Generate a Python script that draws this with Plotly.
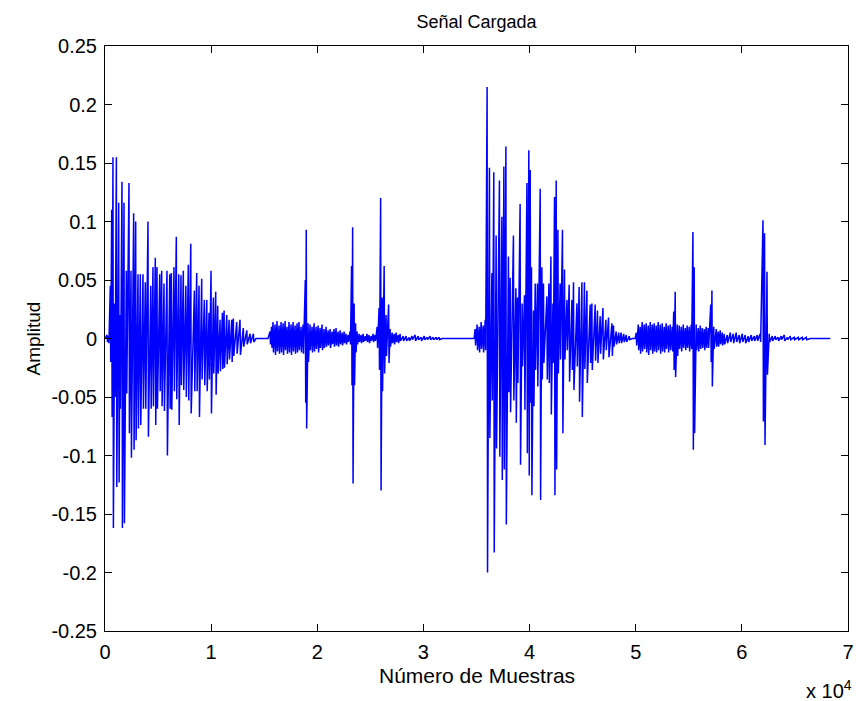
import plotly.graph_objects as go

# ---- Señal de audio: crestas y valles por tramo (índice de muestra, amplitud) ----
# Tramo 1
t1_muestras = [0, 190, 330, 500, 630, 750, 910, 1070, 1290, 1410, 1600, 1790, 2010, 2260, 2450,
               2700, 2890, 3110, 3330, 3580, 3800, 4050, 4310, 4520, 4740, 4900, 5160, 5340, 5560,
               5840, 6100, 6250, 6500, 6720, 6950, 7160, 7380, 7620, 7850, 8080, 8420, 8640, 8860,
               9110, 9360, 9590, 9800, 9990, 10210, 10430, 10620, 10840, 11060, 11220, 11470, 11690,
               11940, 12090, 12410, 12720, 13030, 13360, 13670, 13980, 14230]
t1_crestas = [0, 0.003, 0.002, 0.045, 0.11, 0.155, 0.03, 0.155, 0.116, 0.02, 0.134, 0.116, 0.058,
              0.133, 0.058, 0.107, 0.1, 0.055, 0.055, 0.055, 0.048, 0.1, 0.045, 0.061, 0.069, 0.061,
              0.055, 0.058, 0.047, 0.058, 0.055, 0.056, 0.061, 0.087, 0.055, 0.054, 0.058, 0.045,
              0.063, 0.081, 0.041, 0.056, 0.045, 0.051, 0.033, 0.033, 0.022, 0.058, 0.035, 0.04,
              0.028, 0.016, 0.022, 0.024, 0.02, 0.016, 0.016, 0.017, 0.014, 0.016, 0.009, 0.007,
              0.004, 0.004, 0]
t1_valles = [0, -0.003, -0.004, -0.02, -0.067, -0.162, -0.05, -0.127, -0.123, -0.06, -0.162, -0.158,
             -0.047, -0.081, -0.102, -0.095, -0.087, -0.077, -0.074, -0.06, -0.06, -0.084, -0.06,
             -0.058, -0.074, -0.06, -0.045, -0.058, -0.062, -0.1, -0.06, -0.061, -0.045, -0.052,
             -0.074, -0.04, -0.044, -0.05, -0.053, -0.064, -0.045, -0.045, -0.067, -0.035, -0.04,
             -0.045, -0.035, -0.064, -0.03, -0.048, -0.03, -0.028, -0.026, -0.025, -0.022, -0.018,
             -0.02, -0.015, -0.013, -0.014, -0.007, -0.005, -0.004, -0.003, 0]

# Tramo 2
t2_muestras = [15360, 15550, 15690, 15830, 16020, 16210, 16400, 16590, 16780, 16970, 17150, 17340,
               17530, 17720, 17910, 18100, 18280, 18470, 18660, 18870, 18960, 19130, 19320, 19510,
               19700, 19890, 20080, 20260, 20450, 20640, 20830, 21020, 21210, 21400, 21580, 21770,
               21960, 22150, 22340, 22530, 22710, 22900, 23090, 23230, 23330, 23470, 23610, 23750,
               23940, 24130, 24320, 24510, 24690, 24880, 25070, 25260, 25450, 25640, 25820, 25970,
               26110, 26300, 26480, 26720, 26860, 27050, 27240, 27430, 27620, 27800, 28090, 28370,
               28650, 28930, 29220, 29500, 29780, 30070, 30350, 30630, 30910, 31200, 31480, 31760]
t2_crestas = [0, 0.006, 0.01, 0.014, 0.012, 0.015, 0.011, 0.014, 0.013, 0.015, 0.01, 0.014, 0.012,
              0.014, 0.011, 0.013, 0.014, 0.01, 0.012, 0.05, 0.093, 0.013, 0.012, 0.01, 0.013, 0.01,
              0.011, 0.009, 0.012, 0.008, 0.01, 0.007, 0.008, 0.006, 0.008, 0.009, 0.006, 0.007,
              0.005, 0.006, 0.004, 0.003, 0.006, 0.062, 0.095, 0.03, 0.013, 0.006, 0.004, 0.003,
              0.004, 0.002, 0.004, 0.003, 0.002, 0.004, 0.003, 0.01, 0.026, 0.12, 0.035, 0.062, 0.02,
              0.029, 0.008, 0.005, 0.004, 0.005, 0.003, 0.004, 0.002, 0.002, 0.001, 0.002, 0.003,
              0.002, 0.001, 0.002, 0.001, 0.002, 0.001, 0.001, 0.001, 0]
t2_valles = [0, -0.005, -0.008, -0.012, -0.014, -0.011, -0.013, -0.012, -0.014, -0.01, -0.013,
             -0.012, -0.014, -0.011, -0.013, -0.012, -0.01, -0.012, -0.013, -0.055, -0.077, -0.02,
             -0.01, -0.012, -0.011, -0.009, -0.012, -0.008, -0.01, -0.008, -0.007, -0.006, -0.008,
             -0.005, -0.007, -0.006, -0.007, -0.005, -0.006, -0.004, -0.005, -0.003, -0.005, -0.04,
             -0.124, -0.04, -0.012, -0.005, -0.003, -0.004, -0.003, -0.002, -0.003, -0.004, -0.002,
             -0.003, -0.002, -0.008, -0.027, -0.13, -0.045, -0.03, -0.015, -0.021, -0.007, -0.004,
             -0.005, -0.003, -0.004, -0.002, -0.002, -0.002, -0.002, -0.001, -0.002, -0.001, -0.002,
             -0.001, -0.001, -0.001, -0.001, -0.001, -0.001, 0]

# Tramo 3
t3_muestras = [34780, 34870, 35060, 35250, 35440, 35630, 35820, 36000, 36220, 36450, 36630, 36850,
               37160, 37390, 37580, 37770, 38010, 38170, 38480, 38710, 38860, 39110, 39300, 39520,
               39750, 39930, 40060, 40180, 40370, 40530, 40740, 41000, 41160, 41310, 41630, 41820,
               42010, 42200, 42350, 42510, 42670, 42880, 43100, 43290, 43520, 43730, 43990, 44140,
               44460, 44670, 44930, 45170, 45400, 45710, 45870, 46180, 46400, 46650, 46910, 47190,
               47440, 47760, 47910, 48160, 48400, 48630, 48870, 49100, 49390, 49670]
t3_crestas = [0, 0.008, 0.012, 0.01, 0.014, 0.011, 0.016, 0.215, 0.146, 0.056, 0.142, 0.088, 0.135,
              0.104, 0.147, 0.164, 0.07, 0.052, 0.088, 0.043, 0.035, 0.115, 0.03, 0.037, 0.133,
              0.161, 0.144, 0.061, 0.024, 0.047, 0.047, 0.128, 0.061, 0.047, 0.036, 0.047, 0.07,
              0.03, 0.121, 0.135, 0.093, 0.047, 0.093, 0.059, 0.033, 0.046, 0.033, 0.048, 0.03,
              0.044, 0.048, 0.048, 0.041, 0.029, 0.03, 0.029, 0.024, 0.019, 0.026, 0.016, 0.018,
              0.013, 0.011, 0.006, 0.005, 0.005, 0.004, 0.003, 0.002, 0]
t3_valles = [0, -0.006, -0.01, -0.012, -0.009, -0.012, -0.01, -0.2, -0.085, -0.053, -0.183, -0.094,
             -0.101, -0.121, -0.112, -0.159, -0.046, -0.063, -0.053, -0.072, -0.038, -0.108, -0.024,
             -0.061, -0.098, -0.117, -0.055, -0.134, -0.058, -0.027, -0.041, -0.138, -0.035, -0.021,
             -0.035, -0.038, -0.065, -0.021, -0.134, -0.112, -0.03, -0.018, -0.081, -0.018, -0.01,
             -0.037, -0.027, -0.044, -0.024, -0.054, -0.067, -0.026, -0.038, -0.021, -0.027, -0.019,
             -0.021, -0.013, -0.018, -0.01, -0.016, -0.015, -0.007, -0.005, -0.004, -0.004, -0.003,
             -0.003, -0.001, 0]

# Tramo 4
t4_muestras = [49950, 50050, 50240, 50420, 50610, 50800, 50990, 51180, 51370, 51560, 51740, 51930,
               52120, 52310, 52500, 52690, 52870, 53060, 53250, 53440, 53580, 53720, 53910, 54100,
               54290, 54480, 54670, 54850, 55040, 55230, 55390, 55510, 55700, 55890, 56080, 56270,
               56460, 56640, 56830, 57070, 57180, 57350, 57590, 57770, 57960, 58150, 58340, 58620,
               58910, 59190, 59470, 59750, 60040, 60320, 60600, 60890, 61170, 61450, 61730, 61990,
               62140, 62370, 62580, 62860, 63150, 63430, 63710, 64000, 64280, 64560, 64940, 65320,
               65690, 66070, 66450, 68330]
t4_crestas = [0, 0.005, 0.012, 0.01, 0.014, 0.012, 0.013, 0.011, 0.014, 0.012, 0.013, 0.011, 0.014,
              0.012, 0.013, 0.01, 0.013, 0.011, 0.012, 0.01, 0.023, 0.04, 0.012, 0.011, 0.01, 0.012,
              0.009, 0.011, 0.01, 0.012, 0.091, 0.061, 0.012, 0.009, 0.011, 0.009, 0.008, 0.01,
              0.009, 0.029, 0.041, 0.01, 0.008, 0.006, 0.007, 0.005, 0.004, 0.003, 0.005, 0.004,
              0.005, 0.003, 0.004, 0.003, 0.002, 0.003, 0.002, 0.003, 0.004, 0.101, 0.09, 0.057,
              0.004, 0.002, 0.002, 0.001, 0.002, 0.003, 0.001, 0.002, 0.001, 0.001, 0.001, 0.001,
              0, 0]
t4_valles = [0, -0.006, -0.01, -0.013, -0.011, -0.009, -0.012, -0.014, -0.01, -0.013, -0.011,
             -0.012, -0.01, -0.013, -0.011, -0.012, -0.009, -0.012, -0.01, -0.011, -0.027, -0.033,
             -0.015, -0.009, -0.011, -0.008, -0.01, -0.008, -0.011, -0.009, -0.095, -0.081, -0.01,
             -0.011, -0.009, -0.008, -0.01, -0.008, -0.008, -0.02, -0.041, -0.009, -0.007, -0.007,
             -0.005, -0.006, -0.005, -0.004, -0.003, -0.004, -0.003, -0.004, -0.003, -0.004, -0.003,
             -0.002, -0.002, -0.002, -0.003, -0.071, -0.091, -0.031, -0.003, -0.002, -0.001, -0.002,
             -0.001, -0.002, -0.001, -0.001, -0.001, -0.001, -0.001, -0.001, 0, 0]

# Etiquetas de los ejes
x_ticks = [0, 10000, 20000, 30000, 40000, 50000, 60000, 70000]
x_tick_text = ["0", "1", "2", "3", "4", "5", "6", "7"]
y_ticks = [0.25, 0.2, 0.15, 0.1, 0.05, 0, -0.05, -0.1, -0.15, -0.2, -0.25]
y_tick_text = ["0.25", "0.2", "0.15", "0.1", "0.05", "0", "-0.05", "-0.1", "-0.15", "-0.2", "-0.25"]

tramos = [
    (t1_muestras, t1_crestas, t1_valles),
    (t2_muestras, t2_crestas, t2_valles),
    (t3_muestras, t3_crestas, t3_valles),
    (t4_muestras, t4_crestas, t4_valles),
]

# Cada muestra aporta una cresta y, medio periodo después, su valle.
MEDIO_PERIODO = 40
xs, ys = [], []
for muestras, crestas, valles in tramos:
    for m, c, v in zip(muestras, crestas, valles):
        if c == 0 and v == 0:
            xs.append(m)
            ys.append(0.0)
        else:
            xs.extend([m, m + MEDIO_PERIODO])
            ys.extend([c, v])

FUENTE = "Liberation Sans, Arial, Helvetica, sans-serif"

fig = go.Figure(
    go.Scatter(x=xs, y=ys, mode="lines", line=dict(color="#0000ff", width=1.5),
               hoverinfo="skip", showlegend=False)
)

eje = dict(
    showgrid=False, zeroline=False, showline=True, linecolor="black", linewidth=1,
    mirror="ticks", ticks="inside", ticklen=7, tickcolor="black", tickwidth=1,
    tickfont=dict(family=FUENTE, size=20, color="black"), automargin=False,
)

fig.update_layout(
    width=857, height=701,
    margin=dict(l=105, r=9, t=46, b=70, autoexpand=False),
    paper_bgcolor="white", plot_bgcolor="white",
    font=dict(family=FUENTE, size=20, color="black"),
    title=dict(text="Señal Cargada", x=0.5, xref="paper", xanchor="center",
               y=1 - 22 / 701, yref="container", yanchor="middle",
               font=dict(family=FUENTE, size=18, color="black")),
    xaxis=dict(range=[0, 70000], tickvals=x_ticks, ticktext=x_tick_text,
               ticklabelstandoff=3, **eje),
    yaxis=dict(range=[-0.25, 0.25], tickvals=y_ticks, ticktext=y_tick_text,
               ticklabelstandoff=3, **eje),
    annotations=[
        dict(text="Número de Muestras", xref="paper", yref="paper", x=0.5, y=-44 / 585,
             xanchor="center", yanchor="middle", showarrow=False,
             font=dict(family=FUENTE, size=21, color="black")),
        dict(text="Amplitud", xref="paper", yref="paper", x=-72 / 743, y=0.5,
             xanchor="center", yanchor="middle", textangle=-90, showarrow=False,
             font=dict(family=FUENTE, size=19, color="black")),
        dict(text="x 10<sup>4</sup>", xref="paper", yref="paper", x=1.008, y=-58 / 585,
             xanchor="right", yanchor="middle", showarrow=False,
             font=dict(family=FUENTE, size=20, color="black")),
    ],
)

fig.write_html("out.html")
